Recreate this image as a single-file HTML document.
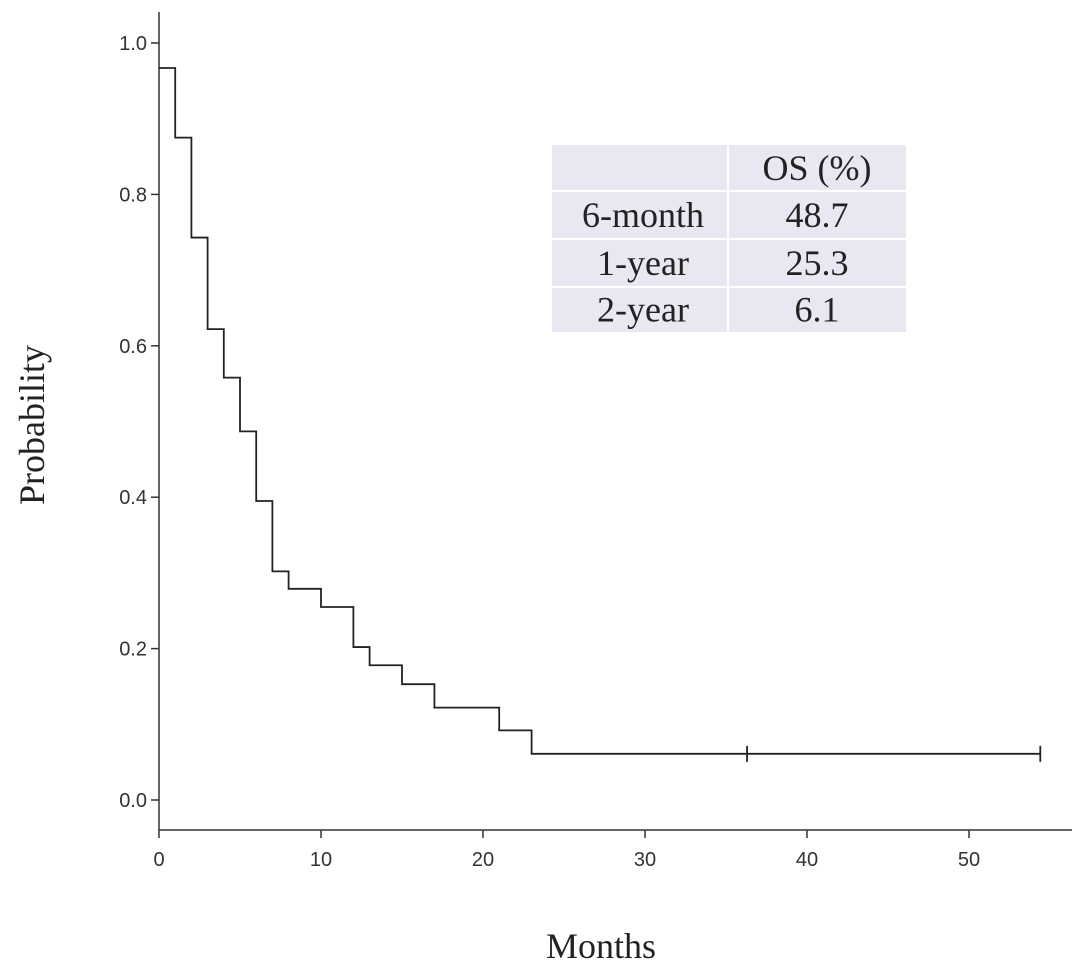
<!DOCTYPE html>
<html><head><meta charset="utf-8"><style>
body{margin:0;background:#fff}
svg{display:block}
.tk{font-family:"Liberation Sans",Arial,sans-serif;font-size:20px;fill:#333}
.tt{font-family:"Liberation Serif",serif;font-size:36px;fill:#222}
.tb{font-family:"Liberation Serif",serif;font-size:36px;fill:#222}
</style></head><body>
<svg id="c" width="1087" height="969" viewBox="0 0 1087 969"></svg>
<script>
const times=[0,1,2,3,4,5,6,7,8,10,12,13,15,17,21,23];
const surv=[0.967,0.875,0.743,0.622,0.558,0.487,0.395,0.302,0.279,0.255,0.202,0.178,0.153,0.122,0.092,0.061];
const endTime=54.4;
const censorTimes=[36.3,54.4];
const xTicks=[0,10,20,30,40,50];
const yTicks=[0.0,0.2,0.4,0.6,0.8,1.0];
const tableRows=[["","OS (%)"],["6-month","48.7"],["1-year","25.3"],["2-year","6.1"]];

const X=v=>159+v*16.2;
const Y=v=>800-v*757;
const svg=document.getElementById('c');
const NS='http://www.w3.org/2000/svg';
function mk(t,a,p){const e=document.createElementNS(NS,t);for(const k in a)e.setAttribute(k,a[k]);(p||svg).appendChild(e);return e;}

const tg=mk('g',{});


mk('rect',{x:552,y:145,width:354,height:187,fill:'#e8e8f3'},tg);
const rowY=[145,191,239,287,332];
[191,239,287].forEach(y=>mk('line',{x1:552,x2:906,y1:y,y2:y,stroke:'#fff','stroke-width':2},tg));
mk('line',{x1:728,x2:728,y1:145,y2:332,stroke:'#fff','stroke-width':2},tg);
tableRows.forEach((r,i)=>{
  const cy=(rowY[i]+rowY[i+1])/2+12;
  r.forEach((s,j)=>{
    if(!s)return;
    const t=mk('text',{x:j?817:643,y:cy,'text-anchor':'middle',class:'tb'},tg);
    t.textContent=s;
    
    
  });
});

const ax=mk('path',{d:'M159,12V830H1072',fill:'none',stroke:'#333','stroke-width':1.5});


xTicks.forEach(v=>{
  mk('line',{x1:X(v),x2:X(v),y1:830,y2:838,stroke:'#333','stroke-width':1.5});
  const t=mk('text',{x:X(v),y:866,'text-anchor':'middle',class:'tk'});t.textContent=v;
  
  
});
yTicks.forEach(v=>{
  mk('line',{x1:151,x2:159,y1:Y(v),y2:Y(v),stroke:'#333','stroke-width':1.5});
  const t=mk('text',{x:147,y:Y(v)+7,'text-anchor':'end',class:'tk'});t.textContent=v.toFixed(1);
  
  
});
let xt=mk('text',{x:601,y:958,'text-anchor':'middle',class:'tt'});xt.textContent='Months';


let yt=mk('text',{x:0,y:0,'text-anchor':'middle',class:'tt',transform:'translate(44,425) rotate(-90)'});yt.textContent='Probability';



let d='M'+X(times[0])+','+Y(surv[0]);
for(let i=1;i<times.length;i++){d+='H'+X(times[i])+'V'+Y(surv[i]);}
d+='H'+X(endTime);
const cv=mk('path',{d:d,fill:'none',stroke:'#222','stroke-width':1.8});


censorTimes.forEach(c=>{
  let s=surv[0];for(let i=0;i<times.length;i++)if(times[i]<=c)s=surv[i];
  const m=mk('line',{x1:X(c),x2:X(c),y1:Y(s)-8,y2:Y(s)+8,stroke:'#222','stroke-width':1.8});
  
  
});
</script>
</body></html>
